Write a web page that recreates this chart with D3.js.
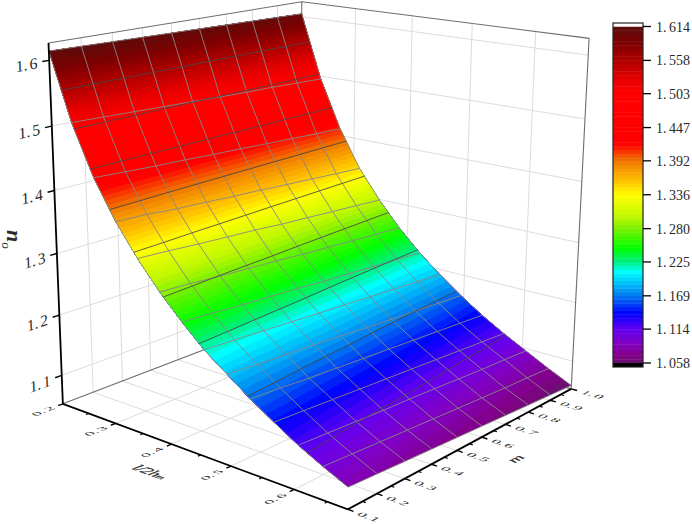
<!DOCTYPE html>
<html><head><meta charset="utf-8">
<script src="https://cdn.jsdelivr.net/npm/d3@7"></script>
<style>html,body{margin:0;padding:0;background:#fff}svg{display:block}text{font-family:"Liberation Serif",serif;fill:#2a2a2a}</style>
</head><body><svg id="c" width="692" height="524"></svg>
<script>
// ---- data ----
const lTicks=[0.2,0.3,0.4,0.5,0.6];
const mTicks=[0.1,0.2,0.3,0.4,0.5,0.6,0.7,0.8,0.9,1.0];
const zTicks=[1.1,1.2,1.3,1.4,1.5,1.6];
const barTicks=[1.058,1.114,1.169,1.225,1.280,1.336,1.392,1.447,1.503,1.558,1.614];
const lGrid=[0.2,0.237,0.274,0.311,0.348,0.385,0.422,0.458,0.495,0.532,0.569,0.606,0.643,0.68];
const mGrid=[0.1,0.2,0.3,0.4,0.5,0.6,0.7,0.8,0.9,1.0];
const zRow0=[1.614,1.613,1.612,1.611,1.610,1.609,1.608,1.607,1.606,1.605];
const zRow1=[1.512,1.510,1.508,1.506,1.504,1.502,1.500,1.499,1.497,1.495];
const zRow2=[1.435,1.432,1.429,1.427,1.424,1.422,1.419,1.417,1.414,1.412];
const zRow3=[1.376,1.373,1.369,1.366,1.363,1.360,1.357,1.354,1.351,1.348];
const zRow4=[1.328,1.325,1.321,1.318,1.315,1.311,1.308,1.305,1.302,1.299];
const zRow5=[1.286,1.283,1.279,1.276,1.273,1.269,1.266,1.263,1.260,1.257];
const zRow6=[1.250,1.247,1.243,1.240,1.237,1.233,1.230,1.227,1.224,1.221];
const zRow7=[1.218,1.215,1.212,1.209,1.206,1.203,1.200,1.197,1.194,1.191];
const zRow8=[1.192,1.188,1.185,1.182,1.179,1.175,1.172,1.169,1.166,1.163];
const zRow9=[1.166,1.163,1.159,1.156,1.153,1.150,1.147,1.144,1.141,1.138];
const zRow10=[1.143,1.140,1.137,1.134,1.131,1.128,1.125,1.122,1.119,1.116];
const zRow11=[1.121,1.118,1.115,1.112,1.110,1.107,1.104,1.101,1.099,1.096];
const zRow12=[1.102,1.099,1.096,1.093,1.090,1.087,1.084,1.081,1.079,1.076];
const zRow13=[1.085,1.082,1.079,1.076,1.073,1.070,1.067,1.064,1.061,1.058];
const colorValues=[1.058,1.07,1.09,1.114,1.14,1.169,1.209,1.228,1.248,1.28,1.30,1.336,1.36,1.392,1.42,1.503,1.525,1.558,1.585,1.614];
const colorList=["#641470","#820082","#8200c0","#6400f0","#0000ff","#0078f0","#00ffff","#00f070","#00ff00","#78f000","#c0f800","#ffff00","#ffc000","#f07800","#ff0000","#ff0000","#ea0000","#b00000","#800000","#5a0c0c"];
const levelCount=90;
const zTable=[zRow0,zRow1,zRow2,zRow3,zRow4,zRow5,zRow6,zRow7,zRow8,zRow9,zRow10,zRow11,zRow12,zRow13];

// ---- box and camera ----
const lDom=[0.2,0.68], mDom=[0.1,1.0], zDom=[1.052,1.626];
const sl=d3.scaleLinear(lDom,[0,1]), sm=d3.scaleLinear(mDom,[0,1]), sz=d3.scaleLinear(zDom,[0,1]);
const [zLo,zHi]=zDom,[lLo,lHi]=lDom,[mLo,mHi]=mDom;
// calibration: where known box positions fall in the frame
const ties=[
[.2,.1,zLo,63,405],[.3,.1,zLo,115,424.7],[.4,.1,zLo,171.7,444.7],[.5,.1,zLo,231.7,467],[.6,.1,zLo,295,490],[lHi,.1,zLo,347,508.5],
[lHi,.2,zLo,376,492],[lHi,.3,zLo,404,479],[lHi,.4,zLo,431,464],[lHi,.5,zLo,458,450],[lHi,.6,zLo,483,437],[lHi,.7,zLo,506,425],[lHi,.8,zLo,528,413],[lHi,.9,zLo,549,401],[lHi,1,zLo,571,389],
[.2,.1,1.1,62,376],[.2,.1,1.2,60.5,315],[.2,.1,1.3,57,254],[.2,.1,1.4,53.5,190],[.2,.1,1.5,52,126],[.2,.1,1.6,50,60],[.2,.1,zHi,49,43],
[.2,1,zHi,302,2],[lHi,1,zHi,587,37],
[.3,1,zHi,356,9],[.4,1,zHi,413,16],[.5,1,zHi,473,23],[.6,1,zHi,537,32],
[.2,.2,zHi,80,38],[.2,.3,zHi,112,32],[.2,.4,zHi,142,28],[.2,.5,zHi,172,23],[.2,.6,zHi,199,19],[.2,.7,zHi,226,14],[.2,.8,zHi,252,10],[.2,.9,zHi,277,6],
[.2,.2,zLo,93,392],[.2,.3,zLo,122,380],[.2,.4,zLo,150,369],[.2,.5,zLo,178,358]
];
function solveCamera(){
  const n=11,A=d3.range(n).map(()=>new Array(n+1).fill(0));
  const add=(r,y)=>{for(let i=0;i<n;i++){for(let j=0;j<n;j++)A[i][j]+=r[i]*r[j];A[i][n]+=r[i]*y;}};
  ties.forEach(([l,m,z,x,y])=>{const a=sl(l),b=sm(m),c=sz(z);
    add([a,b,c,1,0,0,0,0,-x*a,-x*b,-x*c],x);
    add([0,0,0,0,a,b,c,1,-y*a,-y*b,-y*c],y);});
  for(let i=0;i<n;i++){let p=i;for(let k=i+1;k<n;k++)if(Math.abs(A[k][i])>Math.abs(A[p][i]))p=k;
    [A[i],A[p]]=[A[p],A[i]];
    for(let k=0;k<n;k++){if(k===i)continue;const f=A[k][i]/A[i][i];for(let j=i;j<=n;j++)A[k][j]-=f*A[i][j];}}
  return A.map((r,i)=>r[n]/r[i]);
}
const P=solveCamera();
function project(l,m,z){const a=sl(l),b=sm(m),c=sz(z);
  const w=P[8]*a+P[9]*b+P[10]*c+1;
  return [(P[0]*a+P[1]*b+P[2]*c+P[3])/w,(P[4]*a+P[5]*b+P[6]*c+P[7])/w];}
const unit=(p,q)=>{const dx=q[0]-p[0],dy=q[1]-p[1],h=Math.hypot(dx,dy);return [dx/h,dy/h];};

const svg=d3.select("#c");
const line=d3.line();
const seg=(g,pts,color,width)=>g.append("path").attr("d",line(pts)).attr("fill","none").attr("stroke",color).attr("stroke-width",width);
// numbers are set with a wide gap after the point, as in the reference
function numText(t,str,gap){const [a,b]=str.split(".");t.append("tspan").text(a+".");t.append("tspan").attr("dx",gap).text(b);return t;}

// ---- walls and floor ----
const grid=svg.append("g");
const GC="#dcdcdc";
mTicks.slice(1,-1).forEach(m=>{
  seg(grid,[project(lLo,m,zLo),project(lLo,m,zHi)],GC,1);
  seg(grid,[project(lLo,m,zLo),project(lHi,m,zLo)],GC,1);
});
lTicks.slice(1).forEach(l=>{
  seg(grid,[project(l,mHi,zLo),project(l,mHi,zHi)],GC,1);
  seg(grid,[project(l,mLo,zLo),project(l,mHi,zLo)],GC,1);
});
zTicks.forEach(z=>{
  seg(grid,[project(lLo,mLo,z),project(lLo,mHi,z)],GC,1);
  seg(grid,[project(lLo,mHi,z),project(lHi,mHi,z)],GC,1);
});
const EC="#6e6e6e";
seg(grid,[project(lLo,mLo,zHi),project(lLo,mHi,zHi),project(lHi,mHi,zHi),project(lHi,mHi,zLo)],EC,1.1);
seg(grid,[project(lLo,mHi,zLo),project(lLo,mHi,zHi)],EC,1.1);
seg(grid,[project(lLo,mLo,zLo),project(lLo,mHi,zLo),project(lHi,mHi,zLo)],EC,1.1);

// ---- surface ----
const color=d3.scaleLinear(colorValues,colorList).clamp(true);
const barLo=barTicks[0],barHi=barTicks[barTicks.length-1];
const levels=d3.range(levelCount+1).map(d3.scaleLinear([0,levelCount],[barLo,barHi]));
const rowScale=d3.scaleLinear(d3.range(lGrid.length),lGrid);
// fractional row on column j at which the surface reaches height v
function rowAt(j,v){
  if(v>=zTable[0][j])return 0;
  for(let i=1;i<zTable.length;i++) if(v>=zTable[i][j]) return i-1+(zTable[i-1][j]-v)/(zTable[i-1][j]-zTable[i][j]);
  return zTable.length-1;
}
function surf(j,r){const i=Math.min(Math.floor(r),zTable.length-2),f=r-i;
  return project(rowScale(r),mGrid[j],zTable[i][j]*(1-f)+zTable[i+1][j]*f);}
const cols=d3.range(mGrid.length);
const lastCol=cols[cols.length-1];
const sg=svg.append("g");
// each band is painted from its lower level up to the top edge, following the curved side edges;
// the next band overpaints it, so no seams show
d3.range(levelCount).forEach(k=>{
  const lo=k===0?0:levels[k];
  const r0=rowAt(0,lo),rN=rowAt(lastCol,lo);
  const pts=cols.map(j=>surf(j,rowAt(j,lo)))
    .concat(d3.range(Math.ceil(rN)-1,-1,-1).map(i=>surf(lastCol,i)))
    .concat(cols.slice().reverse().map(j=>surf(j,0)))
    .concat(d3.range(1,Math.ceil(r0)).map(i=>surf(0,i)));
  sg.append("path").attr("d",line(pts)+"Z").attr("fill",color((levels[k]+levels[k+1])/2));
});
const meshColor="rgba(135,135,135,.9)";
d3.range(lGrid.length).forEach(i=>seg(sg,cols.map(j=>surf(j,i)),meshColor,1));
cols.forEach(j=>seg(sg,d3.range(lGrid.length).map(i=>surf(j,i)),meshColor,1));
barTicks.slice(1,-1).forEach(v=>seg(sg,cols.map(j=>surf(j,rowAt(j,v))),"rgba(70,70,70,.85)",1));

// ---- axes ----
const ax=svg.append("g");
seg(ax,[project(lLo,mLo,zLo),project(lLo,mLo,zHi)],"#000",1.8);
seg(ax,[project(lLo,mLo,zLo),project(lHi,mLo,zLo)],"#000",1.8);
seg(ax,[project(lHi,mLo,zLo),project(lHi,mHi,zLo)],"#000",1.8);
function skewText(g,at,u,v,size,su,sv){
  return g.append("text").attr("text-anchor","middle").attr("dominant-baseline","central")
    .attr("font-size",size)
    .attr("transform",`matrix(${u[0]*su},${u[1]*su},${v[0]*sv},${v[1]*sv},${at[0]},${at[1]})`);
}
// l axis
const lMinor=[0.25,0.35,0.45,0.55,0.65];
lTicks.forEach(l=>{
  const p=project(l,mLo,zLo),u=unit(p,project(l,mHi,zLo)),v=unit(p,project(lHi,mLo,zLo));
  seg(ax,[p,[p[0]-u[0]*5,p[1]-u[1]*5]],"#000",1.4);
  numText(skewText(ax,[p[0]-u[0]*21,p[1]-u[1]*21],u,v,13,1.2,.72),l.toFixed(1),1.5);
});
lMinor.forEach(l=>{const p=project(l,mLo,zLo),u=unit(p,project(l,mHi,zLo));seg(ax,[p,[p[0]-u[0]*3,p[1]-u[1]*3]],"#000",1.2);});
// m axis
const mMinor=[0.15,0.25,0.35,0.45,0.55,0.65,0.75,0.85,0.95];
mTicks.forEach(m=>{
  const p=project(lHi,m,zLo),v=unit(p,project(lHi,mLo-1,zLo)),u=unit(project(lLo,m,zLo),p);
  seg(ax,[p,[p[0]+u[0]*6,p[1]+u[1]*6]],"#000",1.4);
  numText(skewText(ax,[p[0]+u[0]*22,p[1]+u[1]*22],u,v,13,1.2,.72),m.toFixed(1),1.5);
});
mMinor.forEach(m=>{const p=project(lHi,m,zLo),u=unit(project(lLo,m,zLo),p);seg(ax,[p,[p[0]+u[0]*3.5,p[1]+u[1]*3.5]],"#000",1.2);});
// z axis
zTicks.forEach(z=>{
  const p=project(lLo,mLo,z),u=unit(p,project(lLo,mHi,z)),v=unit(project(lLo,mLo,zHi),project(lLo,mLo,zLo));
  seg(ax,[p,[p[0]-u[0]*7,p[1]-u[1]*7]],"#000",1.4);
  numText(skewText(ax,[p[0]-u[0]*23,p[1]-u[1]*23],u,v,16,1,1),z.toFixed(1),2);
});
// axis titles
{
  const p=project(.43,mLo,zLo),u=unit(project(lLo,mLo,zLo),project(lHi,mLo,zLo)),v=unit(project(lHi,mHi,zLo),project(lHi,mLo,zLo));
  const t=skewText(ax,[p[0]-38,p[1]+21],u,v,17,.95,.85).attr("font-style","italic").attr("stroke","#2a2a2a").attr("stroke-width",.35);
  t.append("tspan").text("l/2h");
  t.append("tspan").text("m").attr("font-size",10).attr("dy",3);
  const q=project(lHi,.55,zLo),u2=unit(project(lHi,mLo,zLo),project(lHi,mHi,zLo)),v2=unit(project(lLo,.55,zLo),q);
  skewText(ax,[q[0]+46,q[1]+15],u2,v2,18,.95,.8).attr("font-style","italic").attr("stroke","#2a2a2a").attr("stroke-width",.35).text("m");
  const n=ax.append("text").attr("transform","translate(7,237) rotate(90)").attr("text-anchor","start")
     .attr("font-size",22).attr("font-style","italic").attr("font-weight","bold");
  n.append("tspan").text("n").attr("x",-7);
  n.append("tspan").text("o").attr("font-size",13).attr("font-weight","normal").attr("dy",5);
}

// ---- colour bar ----
const bar=svg.append("g");
const by=d3.scaleLinear([barLo,barHi],[363,26.5]);
const bx=613,bw=30;
d3.range(levelCount).forEach(k=>{
  bar.append("rect").attr("x",bx).attr("width",bw)
    .attr("y",by(levels[k+1])).attr("height",by(levels[k])-by(levels[k+1])+.4)
    .attr("fill",color((levels[k]+levels[k+1])/2));
});
bar.append("rect").attr("x",bx).attr("width",bw).attr("y",by.range()[0]).attr("height",4).attr("fill","#000");
bar.append("rect").attr("x",bx).attr("width",bw).attr("y",23).attr("height",by.range()[1]-23).attr("fill","#fff");
bar.append("rect").attr("x",bx).attr("width",bw).attr("y",23).attr("height",344).attr("fill","none").attr("stroke","#222").attr("stroke-width",1.2);
barTicks.forEach(v=>{
  bar.append("line").attr("x1",bx+bw).attr("x2",bx+bw+8).attr("y1",by(v)).attr("y2",by(v)).attr("stroke","#000").attr("stroke-width",1.3);
  numText(bar.append("text").attr("x",656).attr("y",by(v)).attr("dominant-baseline","central").attr("font-size",14),v.toFixed(3),2.5);
});
</script></body></html>
